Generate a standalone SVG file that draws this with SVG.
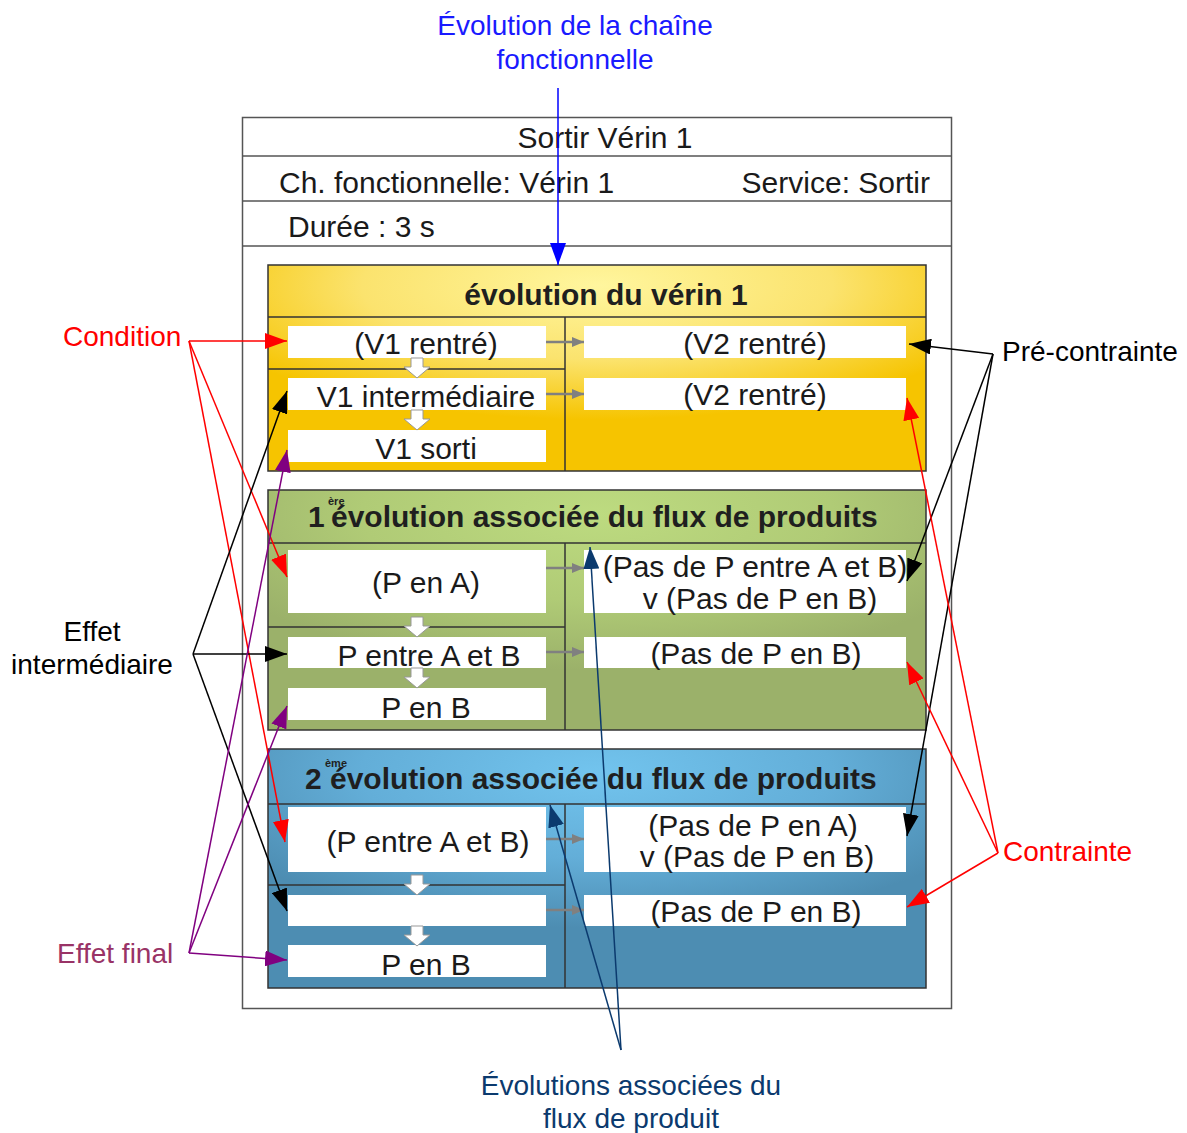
<svg xmlns="http://www.w3.org/2000/svg" width="1187" height="1133" viewBox="0 0 1187 1133">
<style>
text{font-family:"Liberation Sans",Arial,sans-serif;}
.t{font-size:30px;fill:#1a1a1a;}
.tc{font-size:30px;fill:#1a1a1a;text-anchor:middle;}
.h{font-size:30px;font-weight:bold;fill:#1f1f1f;}
.sup{font-size:11px;font-weight:bold;fill:#1f1f1f;}
.lab{font-size:28px;}
.pan{stroke:#333;stroke-width:1.5;}
.div{stroke:#333;stroke-width:1.5;fill:none;}
.box{fill:#fff;}
.ga{stroke:#808080;stroke-width:2.5;fill:none;marker-end:url(#mg);}
.blk{fill:#fff;stroke:#999;stroke-width:1;}
.red{stroke:#ff0000;stroke-width:1.5;fill:none;marker-end:url(#mr);}
.bl{stroke:#000;stroke-width:1.5;fill:none;marker-end:url(#mk);}
.pu{stroke:#800080;stroke-width:1.5;fill:none;marker-end:url(#mp);}
.db{stroke:#0b3a6e;stroke-width:1.5;fill:none;marker-end:url(#md);}
.bu{stroke:#0000ff;stroke-width:1.5;fill:none;marker-end:url(#mb);}
</style>
<defs>
<radialGradient id="gy" cx="0.5" cy="0.1" r="0.65">
<stop offset="0" stop-color="#fff69e"/><stop offset="0.55" stop-color="#fbe36e"/><stop offset="1" stop-color="#f6c400"/>
</radialGradient>
<radialGradient id="gg" cx="0.5" cy="0.1" r="0.65">
<stop offset="0" stop-color="#bddb80"/><stop offset="0.55" stop-color="#b0cb76"/><stop offset="1" stop-color="#9bb16a"/>
</radialGradient>
<radialGradient id="gb" cx="0.5" cy="0.1" r="0.65">
<stop offset="0" stop-color="#72c4ee"/><stop offset="0.55" stop-color="#63aed8"/><stop offset="1" stop-color="#4d8db2"/>
</radialGradient>
<marker id="mr" markerUnits="userSpaceOnUse" markerWidth="22" markerHeight="16" refX="22" refY="8" orient="auto"><path d="M0,0 L22,8 L0,16 z" fill="#ff0000"/></marker>
<marker id="mk" markerUnits="userSpaceOnUse" markerWidth="22" markerHeight="16" refX="22" refY="8" orient="auto"><path d="M0,0 L22,8 L0,16 z" fill="#000"/></marker>
<marker id="mp" markerUnits="userSpaceOnUse" markerWidth="22" markerHeight="16" refX="22" refY="8" orient="auto"><path d="M0,0 L22,8 L0,16 z" fill="#800080"/></marker>
<marker id="md" markerUnits="userSpaceOnUse" markerWidth="22" markerHeight="16" refX="22" refY="8" orient="auto"><path d="M0,0 L22,8 L0,16 z" fill="#0b3a6e"/></marker>
<marker id="mb" markerUnits="userSpaceOnUse" markerWidth="22" markerHeight="16" refX="22" refY="8" orient="auto"><path d="M0,0 L22,8 L0,16 z" fill="#0000ff"/></marker>
<marker id="mg" markerUnits="userSpaceOnUse" markerWidth="12" markerHeight="10" refX="12" refY="5" orient="auto"><path d="M0,0 L12,5 L0,10 z" fill="#808080"/></marker>
<path id="da" d="M-6,0 H6 V9 H13 L0,20 L-13,9 H-6 z"/>
</defs>

<g id="outer">
<rect x="242.5" y="117.5" width="709" height="891" fill="#fff" stroke="#555" stroke-width="1.5"/>
<line x1="242" y1="156" x2="952" y2="156" stroke="#555" stroke-width="1.5"/>
<line x1="242" y1="201" x2="952" y2="201" stroke="#555" stroke-width="1.5"/>
<line x1="242" y1="246" x2="952" y2="246" stroke="#555" stroke-width="1.5"/>
<text class="tc" x="605" y="148">Sortir Vérin 1</text>
<text class="t" x="279" y="193">Ch. fonctionnelle: Vérin 1</text>
<text class="t" x="930" y="193" text-anchor="end">Service: Sortir</text>
<text class="t" x="288" y="237">Durée : 3 s</text>
</g>

<g id="panel-verin">
<rect class="pan" x="268" y="265" width="658" height="206" fill="url(#gy)"/>
<path class="div" d="M268,317 H926 M268,369 H565 M565,317 V471"/>
<text class="h" x="606" y="305" text-anchor="middle">évolution du vérin 1</text>
<rect class="box" x="288" y="326" width="258" height="32"/>
<rect class="box" x="288" y="378" width="258" height="32"/>
<rect class="box" x="288" y="430" width="258" height="32"/>
<rect class="box" x="584" y="326" width="322" height="32"/>
<rect class="box" x="584" y="378" width="322" height="32"/>
<text class="tc" x="426" y="354">(V1 rentré)</text>
<text class="tc" x="426" y="407">V1 intermédiaire</text>
<text class="tc" x="426" y="459">V1 sorti</text>
<text class="tc" x="755" y="354">(V2 rentré)</text>
<text class="tc" x="755" y="405">(V2 rentré)</text>
<use href="#da" class="blk" x="417" y="358"/>
<use href="#da" class="blk" x="417" y="410"/>
<line class="ga" x1="546" y1="342" x2="584" y2="342"/>
<line class="ga" x1="546" y1="394" x2="584" y2="394"/>
</g>

<g id="panel-flux1">
<rect class="pan" x="268" y="490" width="658" height="240" fill="url(#gg)"/>
<path class="div" d="M268,543 H926 M268,627 H565 M565,543 V730"/>
<text class="h" x="308" y="527">1</text>
<text class="sup" x="328" y="505">ère</text>
<text class="h" x="331" y="527">évolution associée du flux de produits</text>
<rect class="box" x="288" y="550" width="258" height="63"/>
<rect class="box" x="288" y="637" width="258" height="31"/>
<rect class="box" x="288" y="688" width="258" height="32"/>
<rect class="box" x="584" y="550" width="322" height="63"/>
<rect class="box" x="584" y="637" width="322" height="31"/>
<text class="tc" x="426" y="593">(P en A)</text>
<text class="tc" x="429" y="666">P entre A et B</text>
<text class="tc" x="426" y="718">P en B</text>
<text class="tc" x="755" y="577">(Pas de P entre A et B)</text>
<text class="tc" x="760" y="609">v (Pas de P en B)</text>
<text class="tc" x="756" y="664">(Pas de P en B)</text>
<use href="#da" class="blk" x="417" y="617"/>
<use href="#da" class="blk" x="417" y="668"/>
<line class="ga" x1="546" y1="568" x2="584" y2="568"/>
<line class="ga" x1="546" y1="652" x2="584" y2="652"/>
</g>

<g id="panel-flux2">
<rect class="pan" x="268" y="749" width="658" height="239" fill="url(#gb)"/>
<path class="div" d="M268,804 H926 M268,885 H565 M565,804 V988"/>
<text class="h" x="305" y="789">2</text>
<text class="sup" x="325" y="767">ème</text>
<text class="h" x="330" y="789">évolution associée du flux de produits</text>
<rect class="box" x="288" y="807" width="258" height="65"/>
<rect class="box" x="288" y="895" width="258" height="31"/>
<rect class="box" x="288" y="945" width="258" height="32"/>
<rect class="box" x="584" y="807" width="322" height="65"/>
<rect class="box" x="584" y="895" width="322" height="31"/>
<text class="tc" x="428" y="852">(P entre A et B)</text>
<text class="tc" x="426" y="975">P en B</text>
<text class="tc" x="753" y="836">(Pas de P en A)</text>
<text class="tc" x="757" y="867">v (Pas de P en B)</text>
<text class="tc" x="756" y="922">(Pas de P en B)</text>
<use href="#da" class="blk" x="417" y="875"/>
<use href="#da" class="blk" x="417" y="926"/>
<line class="ga" x1="546" y1="839" x2="584" y2="839"/>
<line class="ga" x1="546" y1="910" x2="584" y2="910"/>
</g>

<g id="labels">
<text class="lab" x="575" y="35" text-anchor="middle" fill="#1a1aff">Évolution de la chaîne</text>
<text class="lab" x="575" y="69" text-anchor="middle" fill="#1a1aff">fonctionnelle</text>
<text class="lab" x="63" y="346" fill="#ff0000">Condition</text>
<text class="lab" x="92" y="641" text-anchor="middle" fill="#000">Effet</text>
<text class="lab" x="92" y="674" text-anchor="middle" fill="#000">intermédiaire</text>
<text class="lab" x="57" y="963" fill="#993366">Effet final</text>
<text class="lab" x="1002" y="361" fill="#000">Pré-contrainte</text>
<text class="lab" x="1003" y="861" fill="#ff0000">Contrainte</text>
<text class="lab" x="631" y="1095" text-anchor="middle" fill="#0b3a6e">Évolutions associées du</text>
<text class="lab" x="631" y="1128" text-anchor="middle" fill="#0b3a6e">flux de produit</text>
</g>

<g id="connectors">
<line class="bu" x1="558" y1="88" x2="558" y2="265"/>
<line class="red" x1="189" y1="341" x2="287" y2="341"/>
<line class="red" x1="189" y1="341" x2="287" y2="577"/>
<line class="red" x1="189" y1="341" x2="285" y2="842"/>
<line class="bl" x1="193" y1="654" x2="287" y2="654"/>
<line class="bl" x1="193" y1="654" x2="287" y2="391"/>
<line class="bl" x1="193" y1="654" x2="287" y2="911"/>
<line class="pu" x1="189" y1="953" x2="287" y2="960"/>
<line class="pu" x1="189" y1="953" x2="287" y2="450"/>
<line class="pu" x1="189" y1="953" x2="287" y2="706"/>
<line class="bl" x1="993" y1="354" x2="909" y2="344"/>
<line class="bl" x1="993" y1="354" x2="907" y2="581"/>
<line class="bl" x1="993" y1="354" x2="907" y2="836"/>
<line class="red" x1="998" y1="853" x2="907" y2="398"/>
<line class="red" x1="998" y1="853" x2="907" y2="662"/>
<line class="red" x1="998" y1="853" x2="907" y2="907"/>
<line class="db" x1="621" y1="1050" x2="590" y2="547"/>
<line class="db" x1="621" y1="1050" x2="550" y2="805"/>
</g>
</svg>
